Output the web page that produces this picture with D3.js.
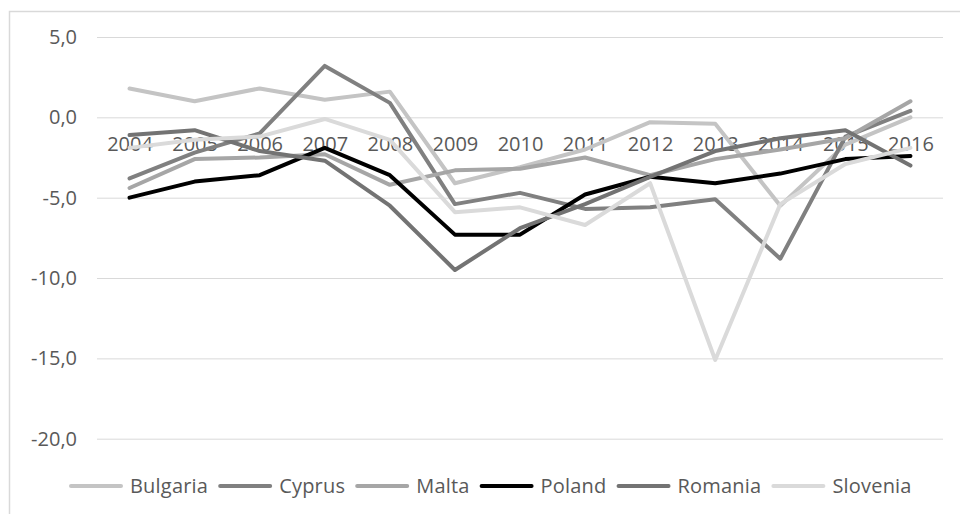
<!DOCTYPE html>
<html>
<head>
<meta charset="utf-8">
<script src="https://cdn.jsdelivr.net/npm/d3@7"></script>
<style>
  html, body { margin: 0; padding: 0; background: #fff; }
  svg { display: block; }
  text { font-family: "Open Sans", "DejaVu Sans", sans-serif; fill: #595959; }
</style>
</head>
<body>
<svg id="chart" width="960" height="514"></svg>
<script>
// Government balance by country, % of GDP
const years = ["2004","2005","2006","2007","2008","2009","2010","2011","2012","2013","2014","2015","2016"];
const countries = ["Bulgaria","Cyprus","Malta","Poland","Romania","Slovenia"];
const bulgaria = [1.8, 1.0, 1.8, 1.1, 1.6, -4.1, -3.1, -2.0, -0.3, -0.4, -5.5, -1.7, 0.0];
const cyprus   = [-3.8, -2.2, -1.0, 3.2, 0.9, -5.4, -4.7, -5.7, -5.6, -5.1, -8.8, -1.2, 0.4];
const malta    = [-4.4, -2.6, -2.5, -2.3, -4.2, -3.3, -3.2, -2.5, -3.6, -2.6, -2.0, -1.3, 1.0];
const poland   = [-5.0, -4.0, -3.6, -1.9, -3.6, -7.3, -7.3, -4.8, -3.7, -4.1, -3.5, -2.6, -2.4];
const romania  = [-1.1, -0.8, -2.1, -2.7, -5.5, -9.5, -6.9, -5.4, -3.7, -2.1, -1.3, -0.8, -3.0];
const slovenia = [-1.9, -1.4, -1.2, -0.1, -1.4, -5.9, -5.6, -6.7, -4.1, -15.1, -5.4, -2.9, -1.9];
const yTicks = [5, 0, -5, -10, -15, -20];
const colors = ["#c4c4c4", "#808080", "#a6a6a6", "#000000", "#737373", "#dadada"];

const seriesValues = [bulgaria, cyprus, malta, poland, romania, slovenia];
const series = countries.map((name, i) => ({
  name, color: colors[i],
  points: years.map((y, j) => ({ year: y, value: seriesValues[i][j] }))
}));

const svg = d3.select("#chart");
const locale = d3.formatLocale({ decimal: ",", thousands: ".", grouping: [3], currency: ["", " €"], minus: "-" });
const fmt = locale.format(".1f");

const x = d3.scalePoint().domain(years).range([97, 943]).padding(0.5);
const y = d3.scaleLinear().domain([-20, 5]).range([438.7, 37]);

// chart frame
svg.append("rect")
  .attr("x", 9.5).attr("y", 11.5).attr("width", 980).attr("height", 540)
  .attr("fill", "none").attr("stroke", "#d9d9d9").attr("stroke-width", 1.5);

// horizontal gridlines + value labels
const yAxis = d3.axisLeft(y).tickValues(yTicks).tickFormat(fmt)
  .tickSize(-(943 - 97)).tickPadding(20);
const gy = svg.append("g").attr("transform", "translate(97,0)").call(yAxis);
gy.select(".domain").remove();
gy.selectAll(".tick line").attr("stroke", "#d9d9d9").attr("stroke-width", 1);
gy.selectAll(".tick text")
  .attr("font-size", 20).attr("fill", "#595959")
  .style("font-family", "'Open Sans', sans-serif");

// category labels sit just under the zero line
const xAxis = d3.axisBottom(x).tickSize(0).tickPadding(19);
const gx = svg.append("g").attr("transform", `translate(0,${y(0)})`).call(xAxis);
gx.select(".domain").remove();
gx.selectAll(".tick text")
  .attr("font-size", 20).attr("fill", "#595959")
  .style("font-family", "'Open Sans', sans-serif");

// series lines
const line = d3.line().x(d => x(d.year)).y(d => y(d.value));
svg.append("g").selectAll("path").data(series).join("path")
  .attr("d", d => line(d.points))
  .attr("fill", "none")
  .attr("stroke", d => d.color)
  .attr("stroke-width", 4)
  .attr("stroke-linejoin", "round")
  .attr("stroke-linecap", "round");

// legend
const legend = svg.append("g").attr("transform", "translate(0,486)");
let lx = 71;
series.forEach(s => {
  const g = legend.append("g");
  g.append("line").attr("x1", lx).attr("x2", lx + 50).attr("y1", 0).attr("y2", 0)
    .attr("stroke", s.color).attr("stroke-width", 4).attr("stroke-linecap", "round");
  const t = g.append("text").attr("x", lx + 59).attr("y", 0).attr("dy", "0.35em")
    .attr("font-size", 20).attr("letter-spacing", 0.2).text(s.name);
  const w = t.node().getComputedTextLength();
  lx = lx + 59 + w + 12;
});
</script>
</body>
</html>
